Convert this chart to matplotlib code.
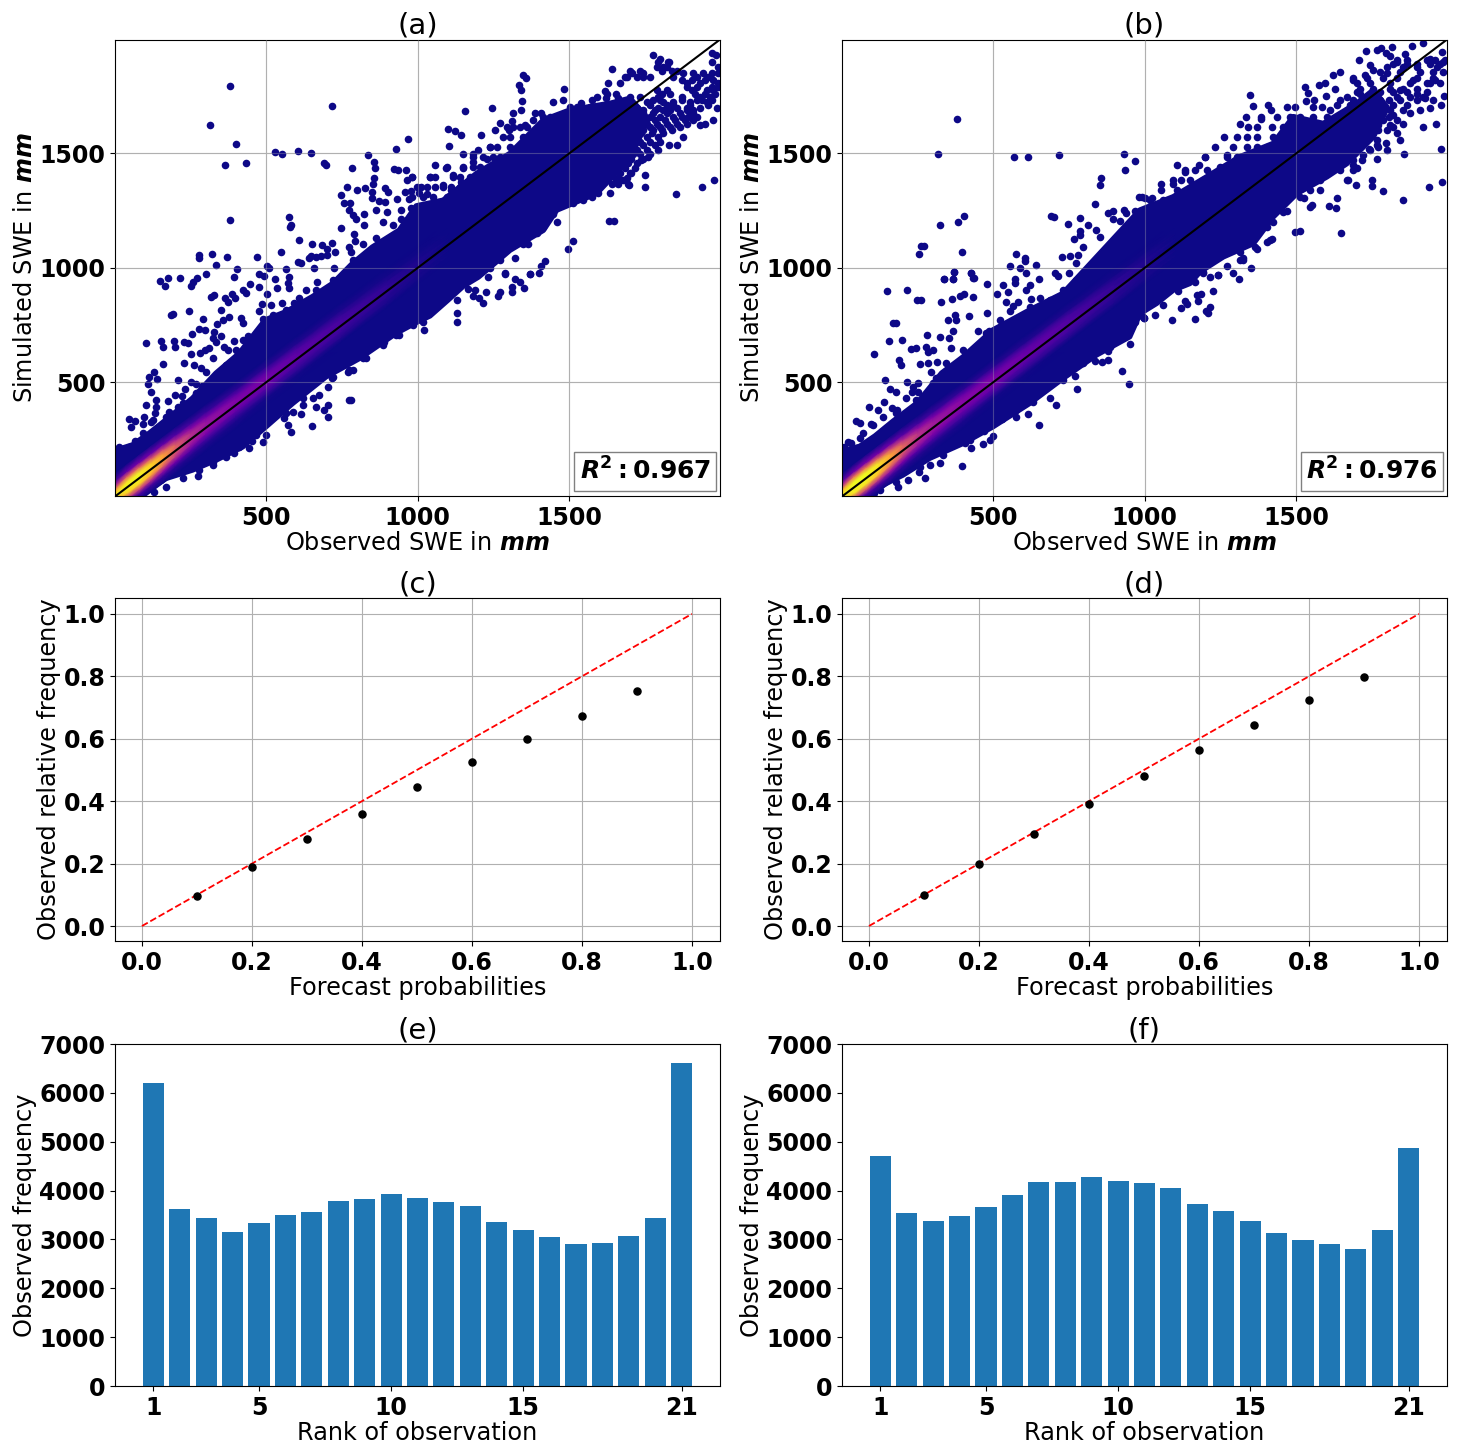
import numpy as np
import matplotlib
matplotlib.use("Agg")
import matplotlib.pyplot as plt

NAVY = "#0d0887"

# isolated and edge points, (observed, simulated) in mm
points_a = [
    (380,1793),(716,1707),(316,1622),(399,1539),(968,1562),(928,1517),(364,1450),(432,1458),(530,1507),(553,1499),
    (605,1508),(649,1501),(689,1458),(696,1451),(836,1493),(855,1464),(860,1437),(784,1437),(921,1432),(934,1425),
    (961,1425),(980,1396),(963,1383),(855,1393),(852,1367),(765,1355),(825,1349),(799,1339),(892,1349),(902,1330),
    (850,1332),(747,1319),(848,1303),(758,1284),(777,1284),(772,1252),(957,1330),(976,1335),(931,1301),(972,1301),
    (873,1293),(892,1288),(862,1252),(899,1245),(945,1252),(574,1221),(381,1207),(581,1185),(578,1178),(746,1172),
    (608,1121),(652,1106),(685,1100),(716,1108),(701,1081),(548,1070),(726,1068),(277,1055),(277,1043),(320,1060),
    (369,1045),(470,1046),(334,1014),(403,995),(503,1007),(510,1000),(605,1027),(614,1019),(640,1041),(649,1052),
    (664,1046),(680,1052),(701,1055),(656,998),(566,993),(725,1001),(772,1092),(780,1070),(790,1147),(793,1118),
    (785,1230),(796,1215),(824,1237),(824,1186),
    (148,941),(177,954),(166,920),(216,954),(271,954),(257,939),(253,920),(300,971),(395,961),(475,971),
    (494,964),(530,949),(576,961),(573,932),(534,910),(447,929),(422,903),(433,891),(318,874),(326,880),
    (365,866),(373,852),(387,885),(397,866),(502,884),(475,917),(576,910),(516,837),(485,840),(551,847),
    (591,847),(609,866),(631,903),(668,936),(187,794),(193,798),(244,812),(290,776),(350,815),(376,786),
    (339,754),(356,772),(418,782),(424,757),(477,810),(488,775),(279,732),(297,728),(255,711),(327,719),
    (351,703),(323,692),(469,721),(464,699),(439,703),(422,684),(393,682),(103,673),(153,681),(161,652),
    (197,680),(200,652),(227,677),(242,673),(335,677),(310,651),(360,652),(373,641),(411,626),(252,623),
    (282,626),(299,641),(323,607),(158,578),(230,582),(262,575),(286,564),(301,543),(130,545),(114,521),
    (139,516),(210,508),(110,492),(252,502),(268,492),(288,485),(119,456),(233,472),(198,446),(222,441),
    (103,400),(136,422),(177,417),(136,393),(134,367),(178,371),(209,393),(46,339),(67,332),(54,303),
    (96,350),(92,316),(120,328),(68,245),
    (274,90),(323,138),(395,192),(444,211),(488,240),(461,294),(499,269),(466,269),(453,243),(582,284),
    (571,313),(650,310),(614,360),(558,342),(587,371),(704,347),(689,379),(664,393),(620,400),(703,400),
    (653,430),(772,422),(778,422),(704,481),(717,517),(769,546),(785,553),(818,604),(890,677),(928,706),
    (1021,727),(1128,765),(1130,803),(1018,765),(1128,860),(1166,906),(1183,877),(1189,903),(1202,867),(1216,845),
    (1224,892),(1265,877),(1271,896),(1310,896),(1310,918),(1350,912),(1320,950),(1337,937),(1288,973),(1370,972),
    (1400,979),(1233,959),(1496,1081),(1513,1116),(1632,1204),(1647,1204),(1420,1030),(1405,1007),(1370,971),(1851,1322),
    (1936,1352),(1977,1383),(1750,1354),(1750,1405),(1698,1361),(1635,1327),(1596,1325),(1854,1536),(1830,1536),(1876,1572),
    (1975,1645),(1948,1627),(1931,1624),(1988,1696),(1794,1514),(1760,1485),(1736,1470),(1700,1412),(1678,1383),(1654,1383),
    (1348,1841),(1357,1827),(1333,1798),(1342,1776),(1344,1729),(1246,1699),(1157,1683),(1100,1608),(1122,1598),(1144,1579),
    (1209,1579),(1104,1530),(1148,1498),(1482,1780),(1445,1726),(1479,1732),(1642,1869),(1777,1929),(1799,1914),(1830,1897),
    (1854,1860),(1970,1940),(1984,1929),(1970,1897),(1991,1878),(1684,1834),(1706,1849),(1744,1852),(1628,1808),(1667,1805),
    (1618,1772),(1590,1747),(1540,1718),(1574,1732),(1546,1674),(1386,1677),(1407,1674),(1342,1689),(1313,1678),(1271,1633),
    (1310,1642),(1381,1645),(1254,1601),(1302,1604),(1353,1623),(1200,1514),(1183,1496),(1238,1528),(1056,1448),(982,1397),
    (1040,1397),(1093,1438),(1117,1405),(1150,1434),(1183,1463),(1227,1477),(1012,1351),(1084,1361),(1111,1339),(1144,1376),
    (1029,1324),(1053,1288),
]

# the busy far end and the fringe of cloud (a)
fringe_a = [
    (1689,1834),(1722,1834),(1744,1834),(1766,1834),(1788,1878),(1810,1878),(1821,1878),(1794,1900),(1826,1900),
    (1876,1849),(1909,1849),(1942,1849),(1970,1849),(1991,1849),(1870,1820),(1904,1820),(1947,1820),(1975,1820),
    (1887,1790),(1920,1790),(1970,1790),(1991,1790),(1804,1761),(1832,1761),(1914,1761),(1947,1761),(1980,1761),
    (1777,1732),(1799,1732),(1870,1732),(1920,1732),(1937,1732),(1970,1732),(1766,1710),(1821,1710),(1843,1710),
    (1898,1710),(1958,1710),(1744,1689),(1783,1689),(1810,1689),(1832,1689),(1887,1689),(1909,1689),(1733,1659),
    (1766,1659),(1799,1659),(1843,1659),(1870,1659),(1892,1659),(1920,1659),(1722,1630),(1755,1630),(1788,1630),
    (1821,1630),(1854,1630),(1887,1630),(1700,1601),(1744,1601),(1777,1601),(1805,1601),(1838,1601),(1689,1572),
    (1722,1572),(1755,1572),(1794,1572),(1678,1536),(1711,1536),(1744,1536),(1783,1536),(1678,1499),(1711,1499),
    (1733,1499),(1766,1499),(1656,1456),(1694,1456),(1722,1456),(1634,1412),(1667,1412),(1705,1412),(1601,1368),
    (1640,1368),(1662,1368),(1694,1368),(1623,1761),(1653,1761),(1700,1747),(1620,1740),(1660,1740),
    (1700,1860),(1733,1860),(1805,1860),(1838,1860),(1843,1834),(1920,1834),(1958,1834),(1887,1805),(1931,1805),
    (1991,1805),(1788,1776),(1821,1776),(1904,1776),(1953,1776),(1975,1776),(1733,1747),(1794,1747),(1870,1747),
    (1931,1747),(1964,1747),(1700,1725),(1755,1725),(1810,1725),(1843,1725),(1898,1725),(1953,1725),(1722,1700),
    (1794,1700),(1854,1700),(1887,1700),(1931,1700),(1744,1674),(1777,1674),(1821,1674),(1865,1674),(1898,1674),
    (1909,1674),(1711,1645),(1744,1645),(1783,1645),(1816,1645),(1849,1645),(1881,1645),(1909,1645),(1733,1616),
    (1766,1616),(1799,1616),(1832,1616),(1865,1616),(1705,1587),(1738,1587),(1772,1587),(1810,1587),(1694,1550),
    (1733,1550),(1766,1550),(1799,1550),(1689,1514),(1722,1514),(1755,1514),(1667,1477),(1705,1477),(1744,1477),
    (1650,1434),(1684,1434),(1716,1434),(1623,1390),(1662,1390),(1689,1390),
    (1502,1703),(1524,1703),(1568,1703),(1601,1703),(1414,1659),(1436,1659),(1469,1659),(1491,1659),(1524,1659),
    (1574,1659),(1606,1659),(1293,1616),(1315,1616),(1337,1616),(1359,1616),(1414,1616),(1458,1616),(1491,1616),
    (1282,1572),(1304,1572),(1348,1572),(1381,1572),(1414,1572),(1447,1572),(1480,1572),(1238,1528),(1260,1528),
    (1304,1528),(1348,1528),(1381,1528),(1414,1528),(1183,1485),(1216,1485),(1249,1485),(1271,1485),(1315,1485),
    (1359,1485),(1095,1441),(1150,1441),(1183,1441),(1205,1441),(1238,1441),(1271,1441),(1040,1397),(1056,1397),
    (1117,1397),(1139,1397),(1172,1397),(1205,1397),(996,1354),(1029,1354),(1056,1354),(1084,1354),(1111,1354),
    (1139,1354),(980,1310),(1018,1310),(1051,1310),(1095,1310),(1117,1310),
    (1392,1150),(1414,1179),(1458,1201),(1447,1237),(1513,1281),(1546,1295),(1574,1310),(1348,1106),(1364,1106),
    (1320,1041),(1288,975),(1238,997),(1271,1033),
    (785,1033),(818,1106),(862,1128),(884,1201),(917,1186),(945,1215),(978,1259),(1005,1325),
    (131,22),(169,44),(224,80),(279,117),(323,153),(367,175),(411,218),(565,364),(620,430),(675,444),(719,524),
    (774,553),(829,604),(884,663),(939,706),(983,750),
    (15,218),(48,218),(92,277),(125,335),(169,349),(224,408),(268,451),(323,502),(367,575),(400,641),(455,677),
    (496,764),(521,794),(565,815),(609,845),(664,903),(719,947),
]

points_b = [
    (381,1648),(317,1496),(569,1485),(614,1485),(717,1492),(930,1495),(969,1466),(935,1425),(857,1390),(851,1362),
    (980,1310),(1000,1306),(837,1279),(879,1240),(894,1247),(932,1252),(939,1240),(969,1249),(692,1226),(699,1223),
    (785,1217),(747,1192),(402,1226),(383,1198),(323,1189),(260,1096),(273,1096),(254,1058),(396,1071),(576,1060),
    (606,1041),(606,1030),(642,1014),(554,1009),(587,1001),(727,1049),(752,1052),(780,1057),(767,1127),(787,1161),
    (787,1143),(813,1186),(840,1165),(796,1092),(774,1019),(371,982),(425,977),(609,978),(337,953),(367,953),
    (433,956),(571,953),(651,949),(703,975),(714,963),(750,979),(851,1135),(894,1215),(917,1205),(956,1194),
    (338,949),(371,981),(366,949),(426,977),(435,954),(150,900),(217,903),(249,859),(260,859),(328,849),
    (364,862),(389,877),(405,884),(433,871),(478,929),(513,885),(532,926),(550,893),(571,932),(620,925),
    (609,903),(543,849),(582,852),(565,834),(554,813),(625,864),(653,866),(480,801),(419,790),(375,794),
    (378,772),(352,772),(366,724),(283,708),(169,757),(178,757),(155,681),(199,686),(228,644),(245,648),
    (279,655),(286,634),(301,641),(325,696),(354,692),(360,648),(449,724),(472,684),(486,725),(106,622),
    (189,597),(197,575),(257,580),(285,585),(315,590),(296,546),(312,517),(334,532),(143,510),(216,502),
    (160,470),(179,459),(252,495),(235,481),(233,456),(252,459),(211,430),(139,415),(91,392),(120,379),
    (165,389),(183,379),(136,350),(46,332),(59,320),(98,318),(70,277),(21,240),(32,236),(7,218),
    (108,18),(187,44),(219,73),(276,82),(255,109),(290,138),(397,135),(323,146),(406,233),(428,211),
    (466,230),(488,248),(469,287),(499,267),(529,339),(651,315),(616,361),(576,349),(560,371),(706,400),
    (686,430),(777,469),(729,510),(769,527),(752,558),(796,585),(835,594),(859,587),(879,597),(879,638),
    (924,549),(949,491),(951,665),(967,765),(998,782),
    (997,780),(1033,794),(1090,772),(1164,775),(1118,823),(1140,841),(1132,857),(1174,854),(1216,830),(1207,801),
    (1202,809),(1171,881),(1185,886),(1224,897),(1059,838),(1110,900),(1165,940),(1243,969),(1215,959),(1311,953),
    (1292,976),(1191,979),(1647,1150),(1496,1156),(1513,1159),(1633,1303),(1607,1271),(1632,1263),(1852,1297),(1937,1354),
    (1980,1373),(1785,1335),(1750,1383),(1750,1357),(1697,1360),(1976,1520),(1855,1496),(1919,1616),(1961,1630),(1842,1560),
    (1831,1587),(1765,1477),(1741,1517),(1796,1543),(1771,1528),(1798,1514),(1699,1438),(1672,1383),(1550,1274),(1526,1303),
    (1468,1247),(1402,1113),(1418,1124),(1364,1092),(1352,997),(1325,1041),(1314,1033),(1270,1007),(1243,968),
    (1348,1754),(1358,1707),(1407,1710),(1415,1691),(1529,1790),(1540,1764),(1575,1798),(1595,1805),(1629,1783),(1598,1750),
    (1558,1735),(1532,1729),(1620,1844),(1644,1856),(1706,1907),(1730,1946),(1765,1951),(1778,1958),(1817,1965),(1796,1939),
    (1809,1924),(1859,1936),(1880,1970),(1919,1983),(1980,1943),(1941,1914),(1897,1892),(1831,1900),(1743,1885),(1754,1863),
    (1688,1820),(1726,1841),(1798,1849),(1985,1900),(1958,1820),(1930,1805),(1886,1820),(1842,1776),(1897,1761),(1925,1740),
    (1952,1732),(1988,1751),(1977,1710),(1941,1700),(1908,1689),(1875,1674),(1853,1630),(1820,1616),(1804,1659),(1776,1732),
    (1754,1776),(1710,1761),(1688,1703),(1732,1674),(1771,1601),(1732,1572),(1699,1514),(1314,1630),(1333,1659),(1385,1652),
    (1262,1572),(1231,1528),(1105,1448),(1198,1485),(1180,1451),(1055,1365),(1055,1339),(1094,1368),(1132,1419),(1024,1303),
    (990,1310),(1050,1278),(1248,1441),(1270,1492),(1303,1485),
]

# the busy far end and the fringe of cloud (b)
fringe_b = [
    (1820,1892),(1864,1892),(1941,1892),(1974,1892),(1776,1856),(1842,1856),(1908,1856),(1952,1856),(1985,1856),
    (1699,1805),(1743,1805),(1809,1805),(1875,1805),(1941,1805),(1974,1805),(1699,1769),(1776,1769),(1820,1769),
    (1864,1769),(1930,1769),(1644,1732),(1688,1732),(1754,1732),(1804,1732),(1842,1732),(1897,1732),(1611,1689),
    (1666,1689),(1710,1689),(1754,1689),(1809,1689),(1853,1689),(1611,1645),(1655,1645),(1699,1645),(1743,1645),
    (1787,1645),(1831,1645),(1611,1601),(1666,1601),(1710,1601),(1754,1601),(1798,1601),(1633,1557),(1677,1557),
    (1721,1557),(1765,1557),(1644,1514),(1699,1514),(1743,1514),(1600,1470),(1644,1470),(1688,1470),(1716,1470),
    (1567,1426),(1600,1426),(1644,1426),(1688,1426),(1556,1383),(1578,1383),(1666,1383),(1501,1339),(1545,1339),
    (1578,1339),
    (1831,1907),(1864,1907),(1930,1907),(1958,1907),(1990,1907),(1798,1878),(1853,1878),(1897,1878),(1963,1878),
    (1688,1827),(1732,1827),(1787,1827),(1831,1827),(1897,1827),(1952,1827),(1710,1783),(1754,1783),(1809,1783),
    (1853,1783),(1897,1783),(1666,1747),(1743,1747),(1831,1747),(1875,1747),(1919,1747),(1633,1710),(1677,1710),
    (1732,1710),(1787,1710),(1820,1710),(1864,1710),(1644,1667),(1688,1667),(1732,1667),(1776,1667),(1820,1667),
    (1633,1623),(1677,1623),(1721,1623),(1771,1623),(1809,1623),(1644,1579),(1688,1579),(1743,1579),(1666,1536),
    (1710,1536),(1765,1536),(1622,1492),(1666,1492),(1721,1492),(1578,1448),(1633,1448),(1688,1448),
    (1468,1703),(1496,1703),(1556,1703),(1583,1703),(1385,1659),(1435,1659),(1479,1659),(1512,1659),
    (1556,1659),(1600,1659),(1341,1616),(1369,1616),(1418,1616),(1457,1616),(1501,1616),(1545,1616),(1578,1616),
    (1303,1572),(1336,1572),(1369,1572),(1424,1572),(1468,1572),(1534,1572),(1292,1528),(1336,1528),(1369,1528),
    (1402,1528),(1446,1528),(1490,1528),(1198,1485),(1270,1485),(1314,1485),(1358,1485),(1402,1485),(1132,1426),
    (1165,1426),(1204,1426),(1248,1426),(1292,1426),(1336,1426),(1094,1383),(1121,1383),(1149,1383),(1193,1383),
    (1237,1383),(1105,1339),(1149,1339),(1171,1339),(1017,1295),(1061,1295),(1094,1295),(1127,1295),(1017,1252),
    (1050,1252),(1083,1252),
    (1402,1179),(1424,1201),(1457,1244),(1512,1310),(1545,1266),(1358,1164),(1413,1121),(1369,1084),(1314,1070),
    (1325,1033),(1270,1106),(1226,1048),(1204,1019),(1193,982),
    (15,189),(59,255),(103,313),(180,364),(246,422),(301,495),(345,582),(400,641),(477,713),(521,772),(576,772),
    (620,830),(686,859),(730,903),(774,947),(829,976),
    (125,29),(180,66),(257,131),(334,182),(422,248),(510,335),(576,379),(631,415),(697,510),(752,553),(818,612),
    (884,655),(939,714),(994,786),
]

# outline of the solid part of each cloud
upper_a = [(-10,197),(59,226),(114,277),(169,335),(257,430),(334,539),(411,626),(497,772),(566,808),(653,874),(720,932),
           (785,1019),(850,1090),(939,1164),(995,1270),(1084,1295),(1194,1412),(1304,1499),(1414,1645),(1502,1689),(1634,1718),
           (1700,1740),(1760,1650)]
lower_a = [(-10,-10),(75,-10),(103,22),(169,80),(257,117),(334,160),(422,218),(499,306),(587,408),(697,524),(807,604),
           (928,714),(1000,765),(1040,790),(1100,860),(1150,920),(1200,960),(1227,990),(1304,1077),(1414,1164),(1458,1252),
           (1590,1325),(1700,1480),(1760,1650)]
upper_b = [(-10,195),(60,220),(110,265),(170,330),(250,410),(330,540),(400,610),(499,728),(620,815),(730,888),
           (984,1252),(1094,1310),(1204,1397),(1314,1485),(1424,1543),(1490,1660),(1589,1630),(1699,1718),(1754,1776),(1800,1700)]
lower_b = [(-10,-10),(70,-10),(125,44),(202,95),(290,168),(400,233),(499,306),(620,408),(730,517),(840,619),(950,699),
           (984,800),(1039,845),(1094,903),(1149,932),(1182,983),(1259,1048),(1358,1106),(1424,1223),(1501,1324),(1600,1397),
           (1666,1455),(1754,1572),(1800,1700)]

# colour strength of the core of the cloud, rows follow the 1:1 line, columns are sim minus obs
core_obs = [0, 40, 80, 120, 160, 200, 250, 300, 400, 500, 600, 750, 900, 1100]
core_offset = [-100, -70, -48, -24, 0, 24, 48, 70, 100]
core_a = [
    [0, .05, .30, .75, 1.0, .80, .35, .10, 0],
    [0, .10, .45, .90, 1.0, .95, .60, .20, .02],
    [0, .12, .50, .92, 1.0, .98, .60, .22, .03],
    [0, .10, .42, .80, .92, .90, .55, .20, .03],
    [0, .08, .30, .62, .78, .78, .50, .18, .02],
    [0, .05, .22, .45, .58, .60, .38, .14, .02],
    [0, .04, .15, .32, .40, .42, .28, .10, .01],
    [0, .03, .12, .25, .32, .33, .22, .08, .01],
    [0, .02, .08, .18, .25, .25, .16, .05, 0],
    [0, .01, .07, .16, .22, .22, .14, .04, 0],
    [0, .01, .06, .12, .17, .17, .11, .03, 0],
    [0, 0, .04, .08, .11, .11, .07, .02, 0],
    [0, 0, .02, .04, .06, .06, .03, .01, 0],
    [0, 0, 0, 0, 0, 0, 0, 0, 0],
]
core_b = [
    [0, .06, .32, .80, 1.0, .85, .40, .12, 0],
    [0, .12, .50, .95, 1.0, 1.0, .65, .22, .02],
    [0, .14, .55, .95, 1.0, 1.0, .65, .24, .03],
    [0, .12, .45, .85, .95, .95, .60, .22, .03],
    [0, .09, .34, .66, .80, .80, .52, .20, .02],
    [0, .06, .24, .47, .60, .62, .40, .15, .02],
    [0, .04, .16, .34, .42, .44, .30, .10, .01],
    [0, .03, .13, .26, .34, .35, .24, .08, .01],
    [0, .02, .09, .20, .27, .27, .18, .05, 0],
    [0, .01, .08, .18, .24, .24, .15, .04, 0],
    [0, .01, .07, .14, .20, .20, .13, .03, 0],
    [0, 0, .05, .10, .14, .14, .09, .02, 0],
    [0, 0, .03, .05, .07, .07, .04, .01, 0],
    [0, 0, 0, 0, 0, 0, 0, 0, 0],
]

r2_a = "0.967"
r2_b = "0.976"

forecast_prob = [.1, .2, .3, .4, .5, .6, .7, .8, .9]
rel_freq_c = [.095, .19, .278, .36, .444, .525, .598, .672, .752]
rel_freq_d = [.10, .20, .295, .39, .48, .565, .645, .723, .797]

ranks = list(range(1, 22))
rank_ticks = [1, 5, 10, 15, 21]
hist_e = [6210, 3620, 3440, 3160, 3330, 3500, 3570, 3780, 3820, 3920, 3840,
          3760, 3680, 3350, 3200, 3040, 2900, 2920, 3070, 3440, 6620]
hist_f = [4700, 3540, 3370, 3480, 3670, 3900, 4170, 4170, 4270, 4200, 4150,
          4050, 3720, 3580, 3380, 3130, 2990, 2900, 2800, 3190, 4880]

W, H = 1461, 1452
TICK_SIZE = 17
LABEL_SIZE = 17.3
TITLE_SIZE = 21


def make_axes(fig, left, top, right, bottom):
    return fig.add_axes([left / W, 1 - bottom / H, (right - left) / W, (bottom - top) / H])


def style_axes(ax, title, xlabel, ylabel):
    ax.set_title(title, fontsize=TITLE_SIZE, pad=4)
    ax.set_xlabel(xlabel, fontsize=LABEL_SIZE, labelpad=1.2)
    ax.set_ylabel(ylabel, fontsize=LABEL_SIZE, labelpad=1.5)
    for label in ax.get_xticklabels() + ax.get_yticklabels():
        label.set_fontsize(TICK_SIZE)
        label.set_fontweight("bold")


def draw_scatter(ax, points, fringe, upper, lower, core, r2, title):
    ux, uy = zip(*upper)
    lx, ly = zip(*lower)
    poly_x = list(ux) + list(lx)[::-1]
    poly_y = list(uy) + list(ly)[::-1]
    ax.fill(poly_x, poly_y, fc=NAVY, ec=NAVY, lw=4, joinstyle="round", zorder=2)
    px, py = zip(*(points + fringe))
    ax.scatter(px, py, s=30, color=NAVY, linewidths=0, zorder=2)
    obs = np.array(core_obs, dtype=float)
    off = np.array(core_offset, dtype=float)
    mesh_x = np.repeat(obs[:, None], len(off), axis=1)
    mesh_y = mesh_x + off
    ax.pcolormesh(mesh_x, mesh_y, np.array(core), cmap="plasma", vmin=0, vmax=1,
                  shading="gouraud", zorder=2.5)
    ax.plot([0, 2000], [0, 2000], color="black", lw=1.5, zorder=4)
    ax.set_xlim(1, 1997)
    ax.set_ylim(3, 1995)
    ax.set_xticks([500, 1000, 1500])
    ax.set_yticks([500, 1000, 1500])
    ax.grid(True)
    ax.set_axisbelow(True)
    # the grid only just shows through the cloud
    for v in [500, 1000, 1500]:
        ax.axvline(v, color="#b0b0b0", lw=0.8, alpha=0.35, zorder=3)
        ax.axhline(v, color="#b0b0b0", lw=0.8, alpha=0.35, zorder=3)
    label = r"$\mathbfit{R}^{\mathbf{2}}\mathbf{:" + r2 + "}$"
    ax.text(0.985, 0.024, label, transform=ax.transAxes, ha="right", va="bottom",
            fontsize=18, zorder=6, bbox=dict(boxstyle="square,pad=0.22", fc="white", ec="gray"))
    style_axes(ax, title, r"Observed SWE in $\mathbfit{mm}$", r"Simulated SWE in $\mathbfit{mm}$")


def draw_reliability(ax, freq, title):
    ax.plot([0, 1], [0, 1], color="red", ls="--", lw=1.3, zorder=3)
    ax.scatter(forecast_prob, freq, s=26, color="black", zorder=4)
    ax.set_xlim(-0.049, 1.051)
    ax.set_ylim(-0.048, 1.051)
    ax.set_xticks([0, .2, .4, .6, .8, 1])
    ax.set_yticks([0, .2, .4, .6, .8, 1])
    ax.grid(True)
    ax.set_axisbelow(True)
    style_axes(ax, title, "Forecast probabilities", "Observed relative frequency")


def draw_rank(ax, hist, title):
    ax.bar(ranks, hist, width=0.8, color="#1f77b4")
    ax.set_xlim(-0.45, 22.45)
    ax.set_ylim(0, 7000)
    ax.set_xticks(rank_ticks)
    ax.set_yticks(range(0, 8000, 1000))
    style_axes(ax, title, "Rank of observation", "Observed frequency")


fig = plt.figure(figsize=(W / 100, H / 100), dpi=100)

ax_a = make_axes(fig, 115, 40, 720, 496)
ax_b = make_axes(fig, 842, 40, 1447, 496)
ax_c = make_axes(fig, 115, 598, 720, 941)
ax_d = make_axes(fig, 842, 598, 1447, 941)
ax_e = make_axes(fig, 115, 1044, 720, 1386)
ax_f = make_axes(fig, 842, 1044, 1447, 1386)

draw_scatter(ax_a, points_a, fringe_a, upper_a, lower_a, core_a, r2_a, "(a)")
draw_scatter(ax_b, points_b, fringe_b, upper_b, lower_b, core_b, r2_b, "(b)")
draw_reliability(ax_c, rel_freq_c, "(c)")
draw_reliability(ax_d, rel_freq_d, "(d)")
draw_rank(ax_e, hist_e, "(e)")
draw_rank(ax_f, hist_f, "(f)")

fig.savefig("out.png", dpi=100)
